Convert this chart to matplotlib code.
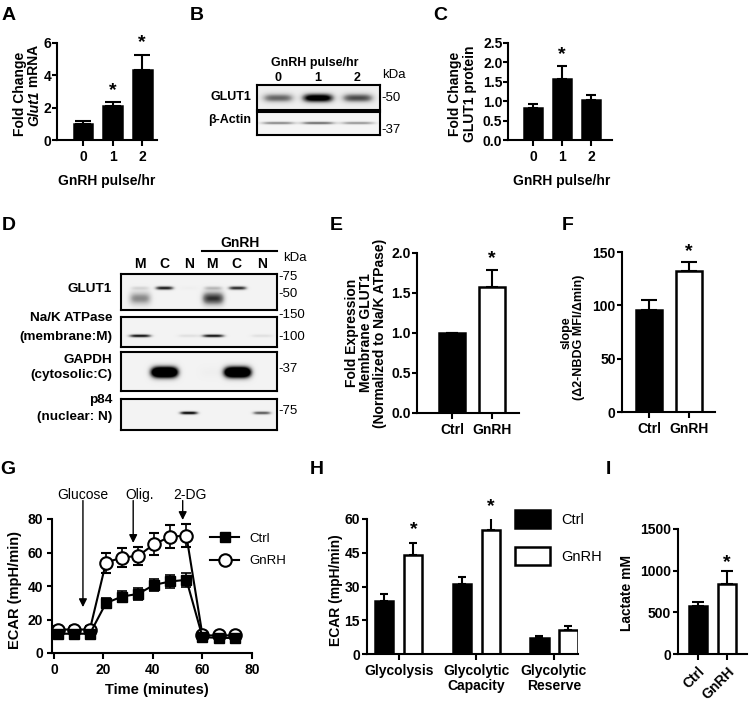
import matplotlib
matplotlib.use('Agg')
import matplotlib.pyplot as plt
import numpy as np
from matplotlib.lines import Line2D

plt.rcParams['font.family'] = ['Liberation Sans', 'DejaVu Sans']
plt.rcParams['font.weight'] = 'bold'
plt.rcParams['axes.labelweight'] = 'bold'
plt.rcParams['axes.linewidth'] = 1.5
plt.rcParams['xtick.major.width'] = 1.5
plt.rcParams['ytick.major.width'] = 1.5
plt.rcParams['xtick.major.size'] = 4
plt.rcParams['ytick.major.size'] = 4
plt.rcParams['xtick.labelsize'] = 10
plt.rcParams['ytick.labelsize'] = 10

W, H = 750, 701
FS = 10  # general label size

# ---- data ----
pulse_labels = ['0', '1', '2']
glut1_mrna = [1.0, 2.1, 4.35]
glut1_mrna_err = [0.15, 0.25, 0.9]
glut1_protein = [0.82, 1.57, 1.03]
glut1_protein_err = [0.1, 0.35, 0.14]

groups = ['Ctrl', 'GnRH']
membrane_glut1 = [1.0, 1.58]
membrane_glut1_err = [0.0, 0.21]
nbdg_slope = [95.5, 132.5]
nbdg_slope_err = [9.5, 8.5]

time_min = [1.5, 8, 14.5, 21, 27.5, 34, 40.5, 47, 53.5, 60, 66.5, 73]
ecar_ctrl = [11.5, 11.5, 11.5, 29.8, 33.7, 35.3, 40.7, 42.7, 43.7, 9.5, 9, 9]
ecar_ctrl_err = [2.5, 2.5, 2.5, 3, 3.5, 3.5, 3.5, 4, 4, 2.5, 2.5, 2.5]
ecar_gnrh = [14, 14, 14, 54, 57, 58, 65, 69.5, 70, 10.5, 10.5, 10.5]
ecar_gnrh_err = [2, 2, 2, 6, 5.5, 5.5, 6.5, 7, 7, 2, 2, 2]
injections = ['Glucose', 'Olig.', '2-DG']
injection_time = [11.7, 32, 52]

glyco_params = ['Glycolysis', 'Glycolytic\nCapacity', 'Glycolytic\nReserve']
glyco_ctrl = [23.7, 31, 7]
glyco_ctrl_err = [3, 3.4, 1.1]
glyco_gnrh = [44, 55.1, 10.5]
glyco_gnrh_err = [5.2, 6.2, 2]

lactate = [576, 840]
lactate_err = [52, 160]

# western blot band intensities (per lane)
blot_b_glut1 = [0.55, 1.1, 0.65]
blot_b_actin = [0.5, 0.6, 0.45]
blot_d_lanes = ['M', 'C', 'N', 'M', 'C', 'N']
blot_d_glut1_smear = [0.45, 0, 0, 0.75, 0, 0]
blot_d_glut1_band = [0.15, 0.85, 0.03, 0.25, 0.8, 0.0]
blot_d_nak = [0.9, 0, 0.12, 0.9, 0, 0.12]
blot_d_gapdh = [0, 1.8, 0, 0.03, 1.8, 0]
blot_d_p84 = [0, 0, 0.95, 0, 0, 0.65]

fig = plt.figure(figsize=(7.5, 7.01), dpi=100)


def px_axes(x0, y0, x1, y1):
    return fig.add_axes([x0 / W, 1 - y1 / H, (x1 - x0) / W, (y1 - y0) / H])


def ftext(x, y, s, **kw):
    kw.setdefault('ha', 'center')
    kw.setdefault('va', 'center')
    kw.setdefault('fontsize', FS)
    return fig.text(x / W, 1 - y / H, s, **kw)


def style(ax, ypad=1.0):
    ax.spines['top'].set_visible(False)
    ax.spines['right'].set_visible(False)
    ax.tick_params(direction='out')
    ax.tick_params(axis='x', pad=3.5)
    ax.tick_params(axis='y', pad=ypad, length=3.5)


def bars(ax, x, vals, errs, color, width, capsize):
    ax.bar(x, vals, width, color=color, edgecolor='black', linewidth=1.8, zorder=2)
    ax.errorbar(x, vals, yerr=[np.zeros(len(vals)), errs], fmt='none', ecolor='black',
                elinewidth=1.5, capsize=capsize, capthick=1.5, zorder=1)


def star(ax, x, y):
    ax.text(x, y, '*', ha='center', va='center', fontsize=14, clip_on=False)


def blot(ax, xlim, bands, bg=0.1):
    xs = np.linspace(xlim[0], xlim[1], 400)
    ys = np.linspace(0, 1, 120)
    X, Y = np.meshgrid(xs, ys)
    img = np.full(X.shape, bg)
    for vals, yc, hw, sy in bands:
        for i, v in enumerate(vals):
            img += v * np.exp(-((X - i) / hw) ** 4) * np.exp(-((Y - yc) / sy) ** 2)
    ax.imshow(np.clip(img, 0, 1), cmap='Greys', vmin=0, vmax=1,
              extent=(xlim[0], xlim[1], 1, 0), aspect='auto', interpolation='bilinear')
    ax.set_xlim(xlim)
    ax.set_ylim(1, 0)
    ax.set_xticks([])
    ax.set_yticks([])


# ---- A ----
ax = px_axes(57, 43, 157, 140)
x = np.arange(3)
bars(ax, x, glut1_mrna, glut1_mrna_err, 'black', 0.63, 5.5)
ax.set_xlim(-0.88, 2.5)
ax.set_ylim(0, 6)
ax.set_yticks([0, 2, 4, 6])
ax.set_xticks(x)
ax.set_xticklabels(pulse_labels)
style(ax, ypad=0.5)
star(ax, 1, 3.05)
star(ax, 2, 6.0)
ftext(107, 181, 'GnRH pulse/hr')
ftext(20, 94, 'Fold Change', rotation=90)
ftext(34, 91, 'Glut1', rotation=90, style='italic', va='top')
ftext(34, 91, ' mRNA', rotation=90, va='bottom')

# ---- B ----
axb1 = px_axes(257, 85, 380, 110)
blot(axb1, (-0.53, 2.58), [(blot_b_glut1, 0.52, 0.38, 0.17)], bg=0.13)
axb2 = px_axes(257, 112, 380, 135)
blot(axb2, (-0.53, 2.58), [(blot_b_actin, 0.48, 0.43, 0.06)], bg=0.08)
ftext(315, 63, 'GnRH pulse/hr', fontsize=9)
for lbl, lx in zip(pulse_labels, [278, 318, 357]):
    ftext(lx, 78, lbl, fontsize=9)
ftext(382, 75, 'kDa', fontsize=9.5, fontweight='normal', ha='left')
ftext(381, 98, '-50', fontsize=9.5, fontweight='normal', ha='left')
ftext(381, 130, '-37', fontsize=9.5, fontweight='normal', ha='left')
ftext(251, 97, 'GLUT1', fontsize=9, ha='right')
ftext(251, 120, 'β-Actin', fontsize=9, ha='right')

# ---- C ----
ax = px_axes(508, 43, 612, 140)
bars(ax, x, glut1_protein, glut1_protein_err, 'black', 0.63, 3.5)
ax.set_xlim(-0.86, 2.72)
ax.set_ylim(0, 2.5)
ax.set_yticks([0, 0.5, 1.0, 1.5, 2.0, 2.5])
ax.set_yticklabels(['0.0', '0.5', '1.0', '1.5', '2.0', '2.5'])
ax.set_xticks(x)
ax.set_xticklabels(pulse_labels)
style(ax, ypad=0.5)
star(ax, 1, 2.2)
ftext(562, 181, 'GnRH pulse/hr')
ftext(455, 94, 'Fold Change', rotation=90)
ftext(470, 94, 'GLUT1 protein', rotation=90)

# ---- D ----
dx = (-0.78, 5.61)
ax = px_axes(121, 274, 277, 310)
blot(ax, dx, [(blot_d_glut1_smear, 0.68, 0.45, 0.18), (blot_d_glut1_band, 0.39, 0.37, 0.05)])
ax = px_axes(121, 317, 277, 347)
blot(ax, dx, [(blot_d_nak, 0.63, 0.45, 0.05)])
ax = px_axes(121, 352, 277, 391)
blot(ax, dx, [(blot_d_gapdh, 0.52, 0.55, 0.14)])
ax = px_axes(121, 399, 277, 430)
blot(ax, dx, [(blot_d_p84, 0.45, 0.37, 0.05)])
for lbl, lx in zip(blot_d_lanes, [140, 164, 189, 212, 236, 262]):
    ftext(lx, 264, lbl)
ftext(240, 243, 'GnRH')
fig.add_artist(Line2D([202 / W, 277 / W], [1 - 251 / H, 1 - 251 / H], color='black', lw=1.5))
ftext(283, 258, 'kDa', fontsize=9.5, fontweight='normal', ha='left')
for mk, my in [('-75', 277), ('-50', 294), ('-150', 315), ('-100', 337), ('-37', 369), ('-75', 411)]:
    ftext(278, my, mk, fontsize=9.5, fontweight='normal', ha='left')
for lbl, ly in [('GLUT1', 289), ('Na/K ATPase', 318), ('(membrane:M)', 337), ('GAPDH', 360),
                ('(cytosolic:C)', 375), ('p84', 400), ('(nuclear: N)', 417)]:
    ftext(112, ly, lbl, fontsize=9.7, ha='right')

# ---- E ----
ax = px_axes(417, 253, 519, 413)
x2 = np.arange(2)
bars(ax, x2, membrane_glut1, membrane_glut1_err, ['black', 'white'], 0.64, 4.5)
ax.set_xlim(-0.875, 1.675)
ax.set_ylim(0, 2.0)
ax.set_yticks([0, 0.5, 1.0, 1.5, 2.0])
ax.set_yticklabels(['0.0', '0.5', '1.0', '1.5', '2.0'])
ax.set_xticks(x2)
ax.set_xticklabels(groups)
style(ax)
star(ax, 1, 1.93)
ftext(352, 333, 'Fold Expression', rotation=90)
ftext(366, 333, 'Membrane GLUT1', rotation=90)
ftext(380, 333, '(Normalized to Na/K ATPase)', rotation=90)

# ---- F ----
ax = px_axes(622, 252, 715, 412)
bars(ax, x2, nbdg_slope, nbdg_slope_err, ['black', 'white'], 0.64, 5.5)
ax.set_xlim(-0.675, 1.65)
ax.set_ylim(0, 150)
ax.set_yticks([0, 50, 100, 150])
ax.set_xticks(x2)
ax.set_xticklabels(groups)
style(ax)
star(ax, 1, 150)
ftext(567, 333, 'slope', rotation=90, fontsize=9)
ftext(579, 337, '(Δ2-NBDG MFI/Δmin)', rotation=90, fontsize=9)

# ---- G ----
ax = px_axes(52, 519, 252, 653)
gnrh_style = dict(color='black', lw=1.5, marker='o', ms=9, mfc='white', mec='black', mew=1.5)
ctrl_style = dict(color='black', lw=1.5, marker='s', ms=7.5, mfc='black', mec='black')
ax.errorbar(time_min, ecar_gnrh, yerr=ecar_gnrh_err, capsize=3.5, capthick=1.2,
            elinewidth=1.2, zorder=2, **gnrh_style)
ax.errorbar(time_min, ecar_ctrl, yerr=ecar_ctrl_err, capsize=3.5, capthick=1.2,
            elinewidth=1.2, zorder=3, **ctrl_style)
ax.set_xlim(-0.8, 80)
ax.set_ylim(0, 80)
ax.set_xticks([0, 20, 40, 60, 80])
ax.set_yticks([0, 20, 40, 60, 80])
style(ax, ypad=3.0)
for name, t, tip, tx in zip(injections, injection_time, [27.4, 65.7, 79.4], [11.7, 34.7, 55]):
    ax.annotate('', xy=(t, tip), xytext=(t, 91), annotation_clip=False,
                arrowprops=dict(arrowstyle='-|>', color='black', lw=1.0, mutation_scale=12,
                                shrinkA=0, shrinkB=0))
    ax.text(tx, 94.5, name, ha='center', va='center', fontsize=10, fontweight='normal',
            clip_on=False)
leg_handles = [Line2D([], [], **ctrl_style), Line2D([], [], **gnrh_style)]
ax.legend(leg_handles, groups, loc='upper left', bbox_to_anchor=(0.79, 0.90), frameon=False,
          handlelength=2.2, handletextpad=0.8, labelspacing=0.8, borderpad=0,
          borderaxespad=0, prop={'size': 9.5, 'weight': 'normal'})
ftext(157, 690, 'Time (minutes)', fontsize=10.5)
ftext(15, 590, 'ECAR (mpH/min)', rotation=90, fontsize=10.5)

# ---- H ----
ax = px_axes(367, 519, 578, 654)
x3 = np.arange(3)
bars(ax, x3 - 0.187, glyco_ctrl, glyco_ctrl_err, 'black', 0.235, 3)
bars(ax, x3 + 0.187, glyco_gnrh, glyco_gnrh_err, 'white', 0.235, 3)
ax.set_xlim(-0.41, 2.31)
ax.set_ylim(0, 60)
ax.set_yticks([0, 15, 30, 45, 60])
ax.set_xticks(x3)
ax.set_xticklabels(glyco_params, linespacing=1.05)
style(ax, ypad=1.5)
star(ax, 0.187, 55.5)
star(ax, 1.187, 65.5)
hb = ax.containers
ax.legend([hb[0], hb[2]], groups, loc='upper left', bbox_to_anchor=(0.70, 1.065), frameon=False,
          handlelength=2.4, handleheight=1.5, handletextpad=0.8, labelspacing=1.3, borderpad=0,
          borderaxespad=0, prop={'size': 10.5, 'weight': 'normal'})
ftext(336, 590, 'ECAR (mpH/min)', rotation=90)

# ---- I ----
ax = px_axes(678, 529, 747, 654)
bars(ax, x2, lactate, lactate_err, ['black', 'white'], 0.65, 4.5)
ax.set_xlim(-0.69, 1.69)
ax.set_ylim(0, 1500)
ax.set_yticks([0, 500, 1000, 1500])
ax.set_xticks(x2)
ax.set_xticklabels(groups, rotation=45, ha='right', rotation_mode='anchor')
style(ax, ypad=1.5)
star(ax, 1, 1100)
ftext(627, 593, 'Lactate mM', rotation=90)

# ---- panel letters ----
for letter, lx, ly in [('A', 2, 16), ('B', 190, 16), ('C', 433, 16), ('D', 2, 226), ('E', 330, 226),
                       ('F', 562, 226), ('G', 0, 470), ('H', 310, 470), ('I', 606, 470)]:
    ftext(lx, ly, letter, fontsize=14, ha='left')

fig.savefig('out.png', dpi=100)
